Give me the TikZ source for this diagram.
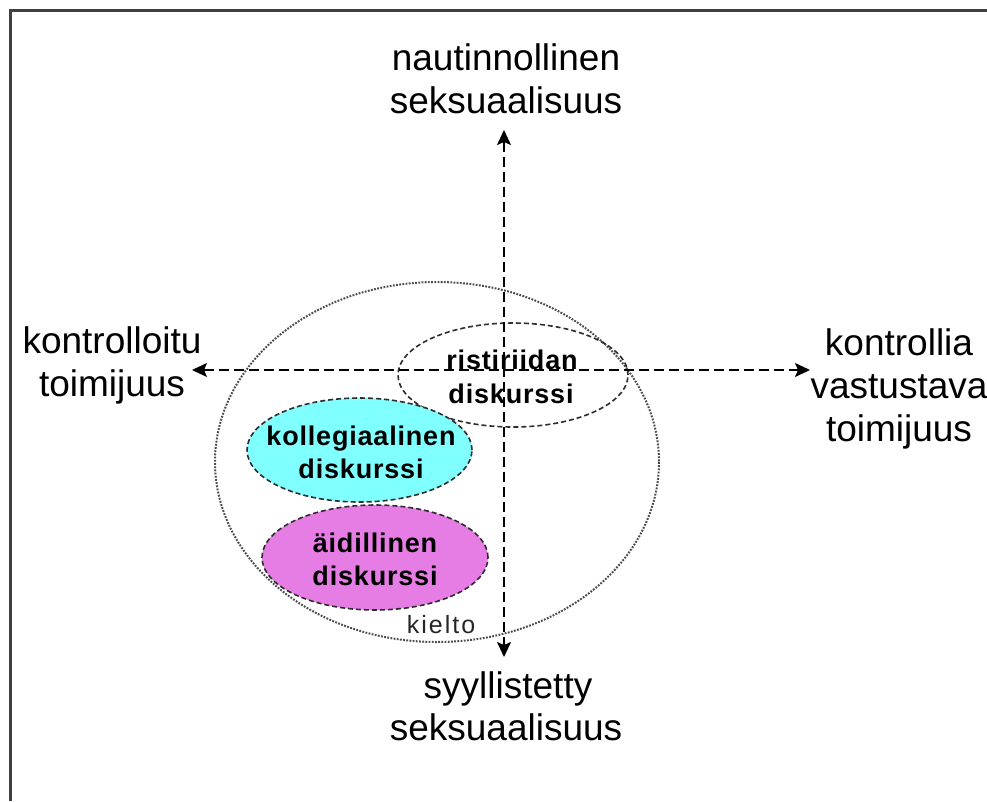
\documentclass[tikz,border=0pt]{standalone}
\usepackage{fontspec}
\setmainfont{Liberation Sans}
\newfontfamily\spacedfont[LetterSpace=3]{Liberation Sans}
\newfontfamily\kieltofont[LetterSpace=8]{Liberation Sans}
\usetikzlibrary{arrows.meta,shapes.geometric}
\definecolor{kolfill}{RGB}{128,255,255}
\definecolor{aidfill}{RGB}{230,125,228}
\definecolor{edgegray}{RGB}{45,45,45}
\definecolor{framegray}{RGB}{64,64,64}

\begin{document}
\begin{tikzpicture}[x=1pt,y=-1pt,
  axislabel/.style={font=\fontsize{37}{43}\selectfont, inner sep=0pt, anchor=base},
  disclabel/.style={font=\spacedfont\bfseries\fontsize{27}{32}\selectfont, inner sep=0pt, anchor=base},
  discourse/.style={ellipse, draw=edgegray, line width=1.6pt, dash pattern=on 5pt off 3pt, inner sep=0pt},
  tip/.tip={Stealth[length=15pt,width=14pt,inset=3pt]},
  axisline/.style={line width=1.5pt, dash pattern=on 10pt off 5pt, tip-tip},
  outerring/.style={draw=edgegray!85, line width=2pt, dash pattern=on 1.8pt off 1.4pt}
]
\useasboundingbox (0,0) rectangle (987,801);
\fill[white] (0,0) rectangle (987,801);

% frame along the top and left edges
\draw[framegray, line width=3pt] (10,801) -- (10,10) -- (987,10);

% outer dotted region
\draw[outerring] (437,462) ellipse [x radius=222, y radius=180];

% conflict discourse (no fill)
\node[discourse, minimum width=230pt, minimum height=104pt] (risti) at (513,375) {};

% axes
\coordinate (N) at (504,130);
\coordinate (S) at (504,657);
\coordinate (W) at (192,370);
\coordinate (E) at (810,370);
\draw[axisline] (W) -- (E);
\draw[axisline] (N) -- (S);

% filled discourses
\node[discourse, fill=kolfill, minimum width=225pt, minimum height=104pt] (kol) at (359.5,450) {};
\node[discourse, fill=aidfill, minimum width=226pt, minimum height=105pt] (aid) at (375,557.5) {};

% discourse labels
\node[disclabel] (risti1) at (512,369) {ristiriidan};
\node[disclabel] (risti2) at (511,403) {diskurssi};
\node[disclabel] (kol1) at (361,445) {kollegiaalinen};
\node[disclabel] (kol2) at (361,478) {diskurssi};
\node[disclabel] (aid1) at (375,552) {äidillinen};
\node[disclabel] (aid2) at (375,585) {diskurssi};
\node[font=\kieltofont\fontsize{25}{30}\selectfont, inner sep=0pt, anchor=base, text=black!85] (kielto) at (441,633) {kielto};

% axis labels
\node[axislabel] (top1) at (506,70) {nautinnollinen};
\node[axislabel] (top2) at (506,113) {seksuaalisuus};
\node[axislabel] (bot1) at (508,698) {syyllistetty};
\node[axislabel] (bot2) at (506,740) {seksuaalisuus};
\node[axislabel] (left1) at (112,353) {kontrolloitu};
\node[axislabel] (left2) at (112,396) {toimijuus};
\node[axislabel] (right1) at (899,355) {kontrollia};
\node[axislabel] (right2) at (899,398) {vastustava};
\node[axislabel] (right3) at (899,441) {toimijuus};
\end{tikzpicture}
\end{document}
